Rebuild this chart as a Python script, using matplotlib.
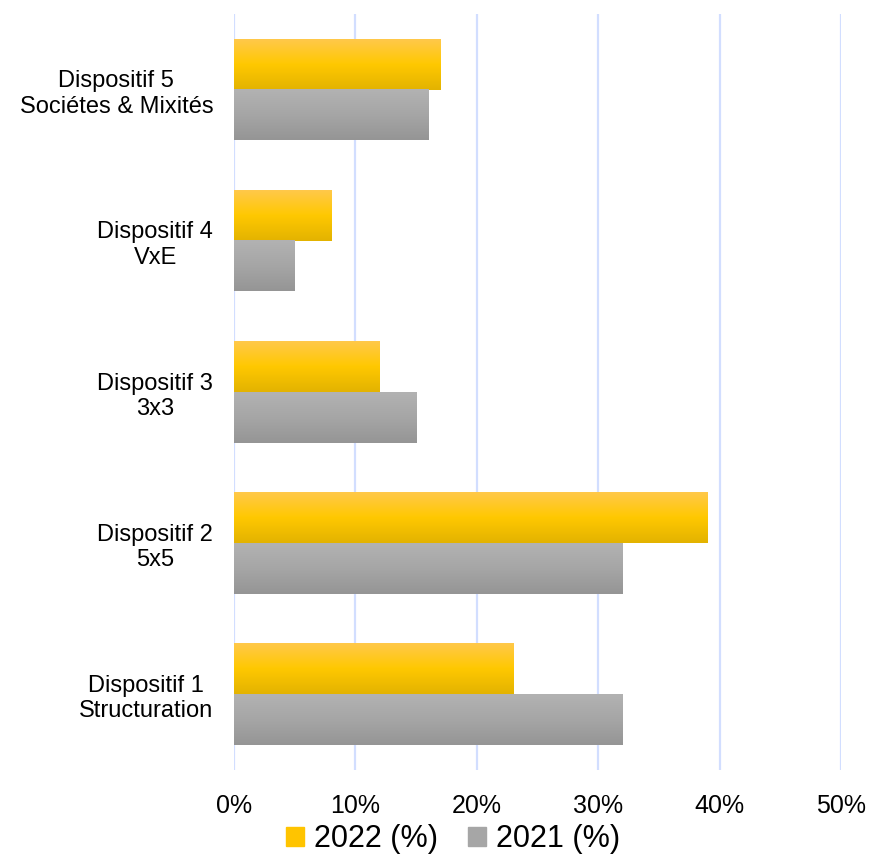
import numpy as np
import matplotlib.pyplot as plt
from matplotlib.colors import LinearSegmentedColormap
from matplotlib.patches import Patch

# data
categories = ["Dispositif 1\nStructuration", "Dispositif 2\n5x5", "Dispositif 3\n3x3",
              "Dispositif 4\nVxE", "Dispositif 5\nSociétes & Mixités"]
vals_2022 = [23, 39, 12, 8, 17]
vals_2021 = [32, 32, 15, 5, 16]
series_labels = ["2022 (%)", "2021 (%)"]
xticks = [0, 10, 20, 30, 40, 50]

plt.rcParams['font.family'] = ['Liberation Sans', 'DejaVu Sans']

yellow = LinearSegmentedColormap.from_list("y", ["#FFC94A", "#FFC800", "#E3B300"])
gray = LinearSegmentedColormap.from_list("g", ["#B2B2B2", "#A6A6A6", "#959595"])

fig = plt.figure(figsize=(8.71, 8.58), dpi=100)
ax = fig.add_axes([0.2687, 0.1026, 0.6969, 0.881])

h = 0.335
grad = np.linspace(0, 1, 64).reshape(-1, 1)

def gradbar(x, y0, y1, cmap):
    # gradient goes from top (light) to bottom (dark)
    ax.imshow(grad, cmap=cmap, extent=[0, x, y0, y1], aspect='auto',
              origin='upper', interpolation='bicubic', zorder=3)

pos = np.arange(len(categories))
for i in pos:
    gradbar(vals_2022[i], i, i + h, yellow)
    gradbar(vals_2021[i], i - h, i, gray)

ax.set_xlim(0, 50)
ax.set_ylim(-0.5, 4.5)
ax.set_xticks(xticks)
ax.set_xticklabels([f"{t}%" for t in xticks], fontsize=18)
ax.set_yticks(pos)
ax.set_yticklabels(categories, fontsize=17, multialignment='center')
ax.tick_params(axis='both', length=0)
ax.tick_params(axis='x', pad=17)
ax.tick_params(axis='y', pad=15)
ax.grid(axis='x', color='#D2DEFF', linewidth=1.6, zorder=0)
ax.set_axisbelow(True)
for s in ax.spines.values():
    s.set_visible(False)

handles = [Patch(color='#FFC400'), Patch(color='#A6A6A6')]
fig.legend(handles, series_labels, loc='center', bbox_to_anchor=(0.52, 0.022),
           ncol=2, frameon=False, fontsize=22, handlelength=0.6, handleheight=0.6,
           handletextpad=0.3, columnspacing=1.0)

fig.savefig("out.png", dpi=100)
